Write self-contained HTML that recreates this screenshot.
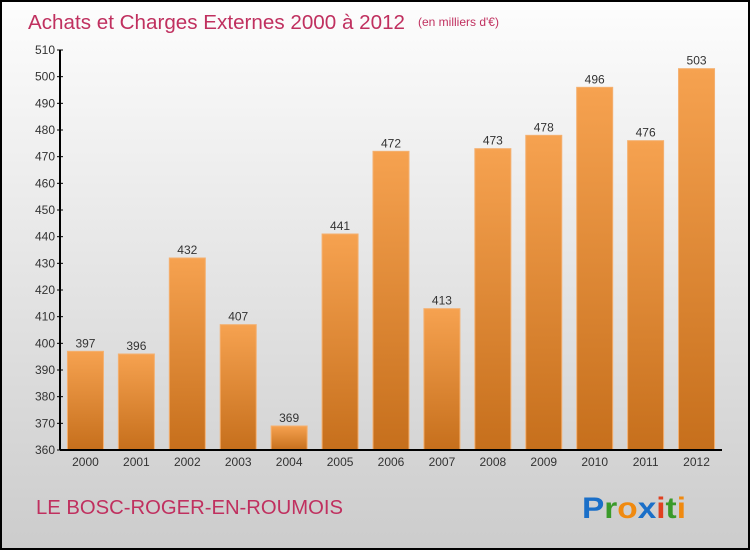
<!DOCTYPE html>
<html><head><meta charset="utf-8"><style>
body{margin:0;width:750px;height:550px;overflow:hidden;font-family:"Liberation Sans",sans-serif}
</style></head><body>
<svg id="chart" width="750" height="550" viewBox="0 0 750 550" xmlns="http://www.w3.org/2000/svg">
<defs>
<linearGradient id="bg" x1="0" y1="0" x2="0" y2="1"><stop offset="0" stop-color="#fdfdfd"/><stop offset="1" stop-color="#cccccc"/></linearGradient>
<linearGradient id="bar" x1="0" y1="0" x2="0" y2="1"><stop offset="0" stop-color="#f6a250"/><stop offset="1" stop-color="#c66f1c"/></linearGradient>
</defs>
<rect x="1" y="1" width="748" height="548" fill="url(#bg)" stroke="#000" stroke-width="2"/>
<text x="28" y="29" font-size="20.5" fill="#c0305f" textLength="377" lengthAdjust="spacingAndGlyphs">Achats et Charges Externes 2000 à 2012</text>
<text x="418" y="26" font-size="12" fill="#c0305f">(en milliers d'€)</text>
<g id="bars"></g>
<g id="axes"></g>
<text x="36" y="514" font-size="20" fill="#c0305f" textLength="307" lengthAdjust="spacingAndGlyphs">LE BOSC-ROGER-EN-ROUMOIS</text>
<text x="582" y="518" font-size="30" font-weight="bold" textLength="104" lengthAdjust="spacingAndGlyphs"><tspan fill="#1a6fc8">P</tspan><tspan fill="#3a9a2a">r</tspan><tspan fill="#f08a10">o</tspan><tspan fill="#1a6fc8">x</tspan><tspan fill="#e04020">i</tspan><tspan fill="#3a9a2a">t</tspan><tspan fill="#f08a10">i</tspan></text>
</svg>
<script>
const categories=["2000","2001","2002","2003","2004","2005","2006","2007","2008","2009","2010","2011","2012"];
const values=[397,396,432,407,369,441,472,413,473,478,496,476,503];
const yTicks=[360,370,380,390,400,410,420,430,440,450,460,470,480,490,500,510];
const NS="http://www.w3.org/2000/svg";
const x0=60,x1=722,yTop=50,yBot=450,yMin=360,yMax=510;
const y=v=>yBot-(v-yMin)/(yMax-yMin)*(yBot-yTop);
const step=(x1-x0)/categories.length;
const xc=i=>x0+step*(i+0.5);
const bw=36;
function mk(t,a,p){const e=document.createElementNS(NS,t);for(const k in a)e.setAttribute(k,a[k]);p.appendChild(e);return e;}
const bars=document.getElementById('bars'),axes=document.getElementById('axes');
values.forEach((v,i)=>{
  const r=mk('rect',{x:xc(i)-bw/2,y:y(v),width:bw,height:yBot-y(v),fill:'url(#bar)',stroke:'#f4b070','stroke-width':1},bars);
  
  
  const t=mk('text',{x:xc(i),y:y(v)-4,'text-anchor':'middle','font-size':12,fill:'#333'},bars);
  t.textContent=v;
  
  
  const c=mk('text',{x:xc(i),y:yBot+16,'text-anchor':'middle','font-size':12,fill:'#333'},axes);
  c.textContent=categories[i];
  
  
});
const ya=mk('line',{x1:x0,y1:yTop,x2:x0,y2:yBot,stroke:'#000','stroke-width':2},axes);


const xa=mk('line',{x1:x0,y1:yBot,x2:x1,y2:yBot,stroke:'#000','stroke-width':2},axes);


yTicks.forEach(v=>{
  mk('line',{x1:x0-3,y1:y(v),x2:x0+3,y2:y(v),stroke:'#000'},axes);
  const t=mk('text',{x:x0-5,y:y(v)+4,'text-anchor':'end','font-size':12,fill:'#333'},axes);
  t.textContent=v;
  
  
});
</script>
</body></html>
